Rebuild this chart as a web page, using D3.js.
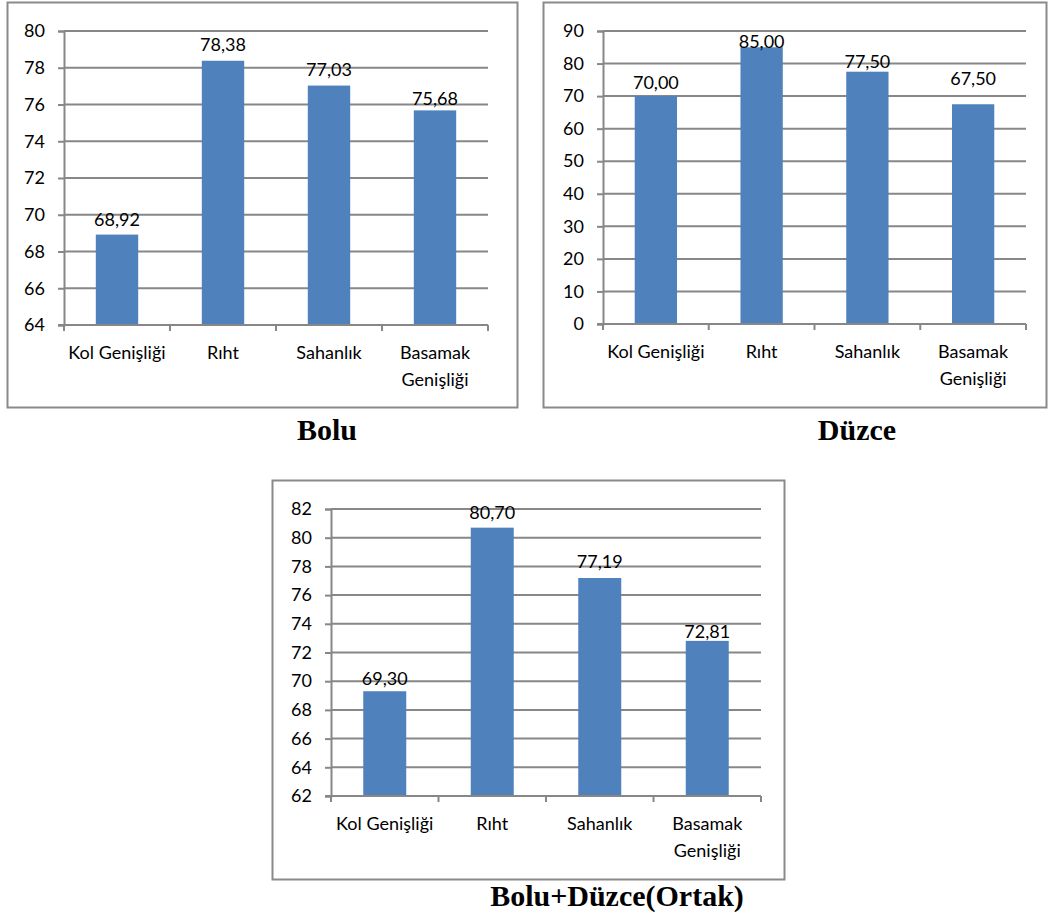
<!DOCTYPE html>
<html>
<head>
<meta charset="utf-8">
<script src="https://cdn.jsdelivr.net/npm/d3@7"></script>
<style>
  html, body { margin: 0; padding: 0; background: #fff; }
  svg { display: block; }
</style>
</head>
<body>
<svg id="chart" width="1048" height="917"></svg>
<script>
// Shared categories for all three panels
const categories = [["Kol Genişliği"], ["Rıht"], ["Sahanlık"], ["Basamak", "Genişliği"]];

// Bolu
const boluValues = [68.92, 78.38, 77.03, 75.68];
const boluTicks = [64, 66, 68, 70, 72, 74, 76, 78, 80];

// Düzce
const duzceValues = [70.00, 85.00, 77.50, 67.50];
const duzceTicks = [0, 10, 20, 30, 40, 50, 60, 70, 80, 90];

// Bolu+Düzce (Ortak)
const ortakValues = [69.30, 80.70, 77.19, 72.81];
const ortakTicks = [62, 64, 66, 68, 70, 72, 74, 76, 78, 80, 82];

const titles = ["Bolu", "Düzce", "Bolu+Düzce(Ortak)"];

const BAR = "#4F81BD";
const GRID = "#878787";
const FRAME = "#8a8a8a";
const FONT = "Lato, 'Open Sans', sans-serif";
const FS = 18;

const svg = d3.select("#chart");

function panel(opts) {
  const { frame, plot, values, ticks, title, titlePos, labelNudge } = opts;
  const g = svg.append("g");

  // outer frame
  g.append("rect")
    .attr("x", frame.x + 0.5).attr("y", frame.y + 0.5)
    .attr("width", frame.w).attr("height", frame.h)
    .attr("fill", "none").attr("stroke", FRAME).attr("stroke-width", 2);

  const x = d3.scaleBand()
    .domain(d3.range(categories.length))
    .range([plot.x0, plot.x1])
    .padding(0);

  const y = d3.scaleLinear()
    .domain([ticks[0], ticks[ticks.length - 1]])
    .range([plot.y1, plot.y0]);

  // y axis with tick labels
  const yAxis = d3.axisLeft(y).tickValues(ticks).tickSize(6).tickPadding(13).tickFormat(d3.format("d"));
  const ya = g.append("g").attr("transform", `translate(${plot.x0},0)`).call(yAxis);
  ya.select(".domain").attr("stroke", GRID).attr("stroke-width", 2);
  ya.selectAll(".tick line").attr("stroke", GRID).attr("stroke-width", 2);
  ya.selectAll(".tick text").attr("font-family", FONT).attr("font-size", FS).attr("fill", "#000");

  // horizontal grid lines
  g.append("g").selectAll("line")
    .data(ticks.slice(1))
    .join("line")
    .attr("x1", plot.x0).attr("x2", plot.x1)
    .attr("y1", d => y(d)).attr("y2", d => y(d))
    .attr("stroke", GRID).attr("stroke-width", 2);

  // bars
  const bw = x.bandwidth() * 0.4;
  g.append("g").selectAll("rect")
    .data(values)
    .join("rect")
    .attr("x", (d, i) => x(i) + (x.bandwidth() - bw) / 2)
    .attr("width", bw)
    .attr("y", d => y(d))
    .attr("height", d => y(ticks[0]) - y(d))
    .attr("fill", BAR);

  // value labels
  g.append("g").selectAll("text")
    .data(values)
    .join("text")
    .attr("x", (d, i) => x(i) + x.bandwidth() / 2)
    .attr("y", (d, i) => y(d) + labelNudge[i])
    .attr("dy", "0.36em")
    .attr("text-anchor", "middle")
    .attr("font-family", FONT).attr("font-size", FS).attr("fill", "#000")
    .text(d => d.toFixed(2).replace(".", ","));

  // x axis with category-boundary ticks
  const base = y(ticks[0]);
  g.append("line")
    .attr("x1", plot.x0 - 6).attr("x2", plot.x1)
    .attr("y1", base).attr("y2", base)
    .attr("stroke", GRID).attr("stroke-width", 2);
  g.append("g").selectAll("line")
    .data(d3.range(categories.length + 1))
    .join("line")
    .attr("x1", i => plot.x0 + i * x.step()).attr("x2", i => plot.x0 + i * x.step())
    .attr("y1", base).attr("y2", base + 6)
    .attr("stroke", GRID).attr("stroke-width", 2);

  const lab = g.append("g").selectAll("text")
    .data(categories)
    .join("text")
    .attr("x", (d, i) => x(i) + x.bandwidth() / 2)
    .attr("y", base + 34)
    .attr("text-anchor", "middle")
    .attr("font-family", FONT).attr("font-size", FS).attr("fill", "#000");
  lab.selectAll("tspan")
    .data(d => d)
    .join("tspan")
    .attr("x", function () { return this.parentNode.getAttribute("x"); })
    .attr("dy", (d, i) => i === 0 ? 0 : 27)
    .text(d => d);

  // panel title
  svg.append("text")
    .attr("x", titlePos.x).attr("y", titlePos.y)
    .attr("text-anchor", "middle")
    .attr("font-family", "'Liberation Serif', 'Times New Roman', serif")
    .attr("font-weight", "bold").attr("font-size", 30).attr("fill", "#000")
    .text(title);
}

panel({
  frame: { x: 7, y: 2, w: 510, h: 405 },
  plot: { x0: 64, x1: 488, y0: 31, y1: 325 },
  values: boluValues, ticks: boluTicks,
  labelNudge: [-15, -16, -16, -12],
  title: titles[0], titlePos: { x: 327, y: 440 }
});

panel({
  frame: { x: 543, y: 2, w: 503, h: 405 },
  plot: { x0: 603, x1: 1026, y0: 31, y1: 324 },
  values: duzceValues, ticks: duzceTicks,
  labelNudge: [-14, -6, -10, -26],
  title: titles[1], titlePos: { x: 857, y: 440 }
});

panel({
  frame: { x: 272, y: 480, w: 512, h: 399 },
  plot: { x0: 331, x1: 761, y0: 509, y1: 796 },
  values: ortakValues, ticks: ortakTicks,
  labelNudge: [-13, -15, -17, -9],
  title: titles[2], titlePos: { x: 617, y: 906 }
});
</script>
</body>
</html>
